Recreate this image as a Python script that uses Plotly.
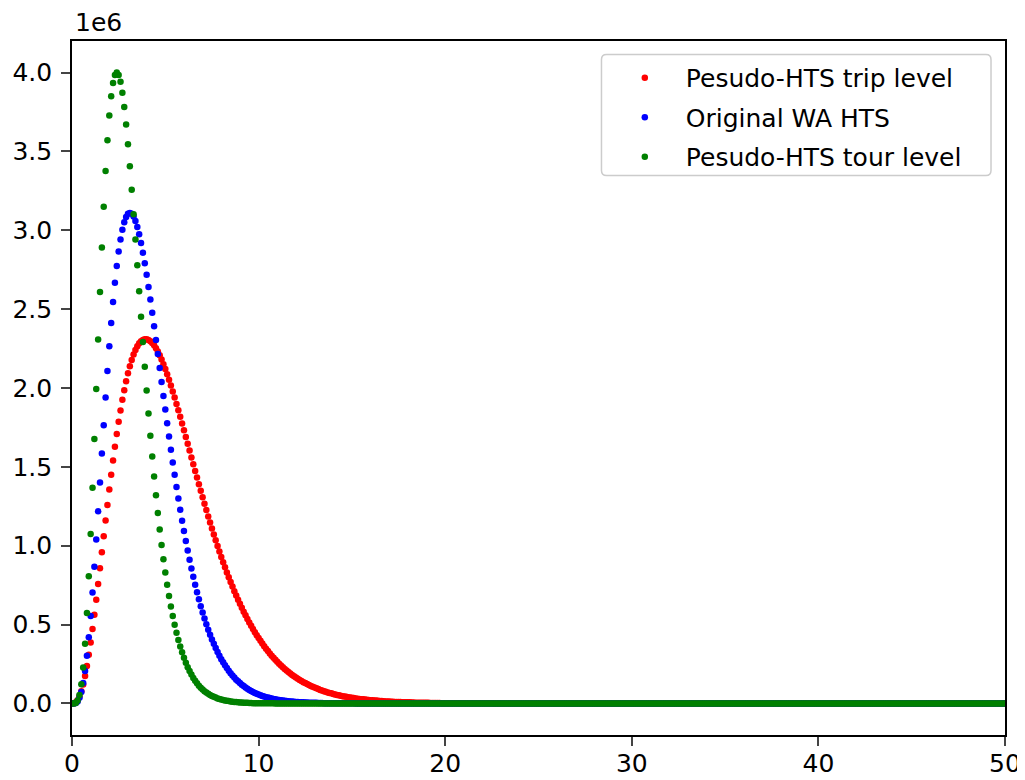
import numpy as np
import plotly.graph_objects as go

trip_level_k = [int(v) for v in """
0 1 7 21 44 77 120 174 237 308 387 472 563 658 757 857 958 1060 1160 1259
1356 1450 1540 1627 1708 1786 1858 1925 1986 2043 2093 2138 2178 2212 2241 2264 2283 2296 2305 2309
2309 2305 2297 2286 2271 2252 2231 2207 2180 2151 2120 2087 2052 2016 1978 1939 1899 1859 1817 1775
1732 1690 1647 1603 1560 1517 1474 1432 1390 1348 1307 1266 1226 1186 1147 1109 1071 1035 999 963
929 896 863 831 800 770 741 712 684 658 632 606 582 559 536 514 492 472 452 433
415 397 380 363 347 332 317 303 290 277 264 252 241 230 219 209 199 190 181 173
165 157 149 142 135 129 123 117 111 106 101 96 91 86 82 78 74 70 67 64
60 57 54 52 49 46 44 42 40 38 36 34 32 30 29 27 26 25 23 22
21 20 19 18 17 16 15 14 13 13 12 11 11 10 10 9 9 8 8 7
7 7 6 6 5 5 5 5 4 4 4 4 3 3 3 3 3 3 2 2
2 2 2 2 2 2 2 1 1 1 1 1 1 1 1 1 1 1 1 1
1 1 1 1 1 1
0 0 0 0 0 0 0 0 0 0 0 0 0 0 0 0 0 0 0 0 0 0 0 0 0
0 0 0 0 0 0 0 0 0 0 0 0 0 0 0 0 0 0 0 0 0 0 0 0 0
0 0 0 0 0 0 0 0 0 0 0 0 0 0 0 0 0 0 0 0 0 0 0 0 0
0 0 0 0 0 0 0 0 0 0 0 0 0 0 0 0 0 0 0 0 0 0 0 0 0
0 0 0 0 0 0 0 0 0 0 0 0 0 0 0 0 0 0 0 0 0 0 0 0 0
0 0 0 0 0 0 0 0 0 0 0 0 0 0 0 0 0 0 0 0 0 0 0 0 0
0 0 0 0 0 0 0 0 0 0 0 0 0 0 0 0 0 0 0 0 0 0 0 0 0
0 0 0 0 0 0 0 0 0 0 0 0 0 0 0 0 0 0 0 0 0 0 0 0 0
0 0 0 0 0 0 0 0 0 0 0 0 0 0 0 0 0 0 0 0 0 0 0 0 0
0 0 0 0 0 0 0 0 0 0 0 0 0 0 0 0 0 0 0 0 0 0 0 0 0
0 0 0 0 0 0 0 0 0 0 0 0 0 0 0 0 0 0 0 0 0 0 0 0 0
""".split()]

original_hts_k = [int(v) for v in """
0 0 3 13 36 73 130 206 303 420 554 704 867 1039 1219 1401 1584 1764 1940 2107
2265 2412 2546 2667 2774 2865 2942 3004 3051 3084 3104 3110 3104 3087 3058 3021 2974 2920 2858 2791
2718 2641 2561 2477 2391 2304 2216 2127 2038 1950 1863 1777 1692 1609 1528 1450 1373 1299 1228 1159
1093 1030 969 911 856 803 753 705 660 617 576 538 502 468 436 406 378 351 326 303
281 261 242 224 207 192 177 164 151 140 129 119 110 101 93 86 79 73 67 62
57 52 48 44 40 37 34 31 28 26 24 22 20 18 17 15 14 13 12 11
10 9 8 7 7 6 6 5 5 4 4 4 3 3 3 2 2 2 2 2
2 1 1 1 1 1 1 1 1 1 1 1
0 0 0 0 0 0 0 0 0 0 0 0 0 0 0 0 0 0 0 0 0 0 0 0 0
0 0 0 0 0 0 0 0 0 0 0 0 0 0 0 0 0 0 0 0 0 0 0 0 0
0 0 0 0 0 0 0 0 0 0 0 0 0 0 0 0 0 0 0 0 0 0 0 0 0
0 0 0 0 0 0 0 0 0 0 0 0 0 0 0 0 0 0 0 0 0 0 0 0 0
0 0 0 0 0 0 0 0 0 0 0 0 0 0 0 0 0 0 0 0 0 0 0 0 0
0 0 0 0 0 0 0 0 0 0 0 0 0 0 0 0 0 0 0 0 0 0 0 0 0
0 0 0 0 0 0 0 0 0 0 0 0 0 0 0 0 0 0 0 0 0 0 0 0 0
0 0 0 0 0 0 0 0 0 0 0 0 0 0 0 0 0 0 0 0 0 0 0 0 0
0 0 0 0 0 0 0 0 0 0 0 0 0 0 0 0 0 0 0 0 0 0 0 0 0
0 0 0 0 0 0 0 0 0 0 0 0 0 0 0 0 0 0 0 0 0 0 0 0 0
0 0 0 0 0 0 0 0 0 0 0 0 0 0 0 0 0 0 0 0 0 0 0 0 0
0 0 0 0 0 0 0 0 0 0 0 0 0 0 0 0 0 0 0 0 0 0 0 0 0
0 0 0 0 0 0 0 0 0 0 0 0 0 0 0 0 0 0 0 0 0 0 0 0 0
0 0 0 0 0 0 0 0 0 0 0 0 0 0 0 0 0 0 0 0 0 0 0 0
""".split()]

tour_level_k = [int(v) for v in """
0 0 3 18 54 121 228 379 573 807 1074 1368 1677 1993 2307 2609 2891 3149 3376 3570
3728 3849 3934 3984 4000 3985 3941 3872 3781 3671 3545 3406 3257 3101 2941 2778 2614 2451 2291 2135
1984 1838 1698 1565 1439 1320 1208 1103 1005 915 830 753 681 615 555 499 449 403 361 324
289 258 230 205 183 162 144 128 113 100 89 78 69 61 54 47 42 37 32 28
25 22 19 17 15 13 11 10 9 7 6 6 5 4 4 3 3 2 2 2
2 1 1 1 1 1 1 1 1
0 0 0 0 0 0 0 0 0 0 0 0 0 0 0 0 0 0 0 0 0 0 0 0 0
0 0 0 0 0 0 0 0 0 0 0 0 0 0 0 0 0 0 0 0 0 0 0 0 0
0 0 0 0 0 0 0 0 0 0 0 0 0 0 0 0 0 0 0 0 0 0 0 0 0
0 0 0 0 0 0 0 0 0 0 0 0 0 0 0 0 0 0 0 0 0 0 0 0 0
0 0 0 0 0 0 0 0 0 0 0 0 0 0 0 0 0 0 0 0 0 0 0 0 0
0 0 0 0 0 0 0 0 0 0 0 0 0 0 0 0 0 0 0 0 0 0 0 0 0
0 0 0 0 0 0 0 0 0 0 0 0 0 0 0 0 0 0 0 0 0 0 0 0 0
0 0 0 0 0 0 0 0 0 0 0 0 0 0 0 0 0 0 0 0 0 0 0 0 0
0 0 0 0 0 0 0 0 0 0 0 0 0 0 0 0 0 0 0 0 0 0 0 0 0
0 0 0 0 0 0 0 0 0 0 0 0 0 0 0 0 0 0 0 0 0 0 0 0 0
0 0 0 0 0 0 0 0 0 0 0 0 0 0 0 0 0 0 0 0 0 0 0 0 0
0 0 0 0 0 0 0 0 0 0 0 0 0 0 0 0 0 0 0 0 0 0 0 0 0
0 0 0 0 0 0 0 0 0 0 0 0 0 0 0 0 0 0 0 0 0 0 0 0 0
0 0 0 0 0 0 0 0 0 0 0 0 0 0 0 0 0 0 0 0 0 0 0 0 0
0 0 0 0 0 0 0 0 0 0 0 0 0 0 0 0 0 0 0 0 0 0 0 0 0
0 0 0 0 0 0 0 0 0 0 0 0 0 0 0 0 0
""".split()]

series_names = ["Pesudo-HTS trip level", "Original WA HTS", "Pesudo-HTS tour level"]
series_colors = ["#ff0000", "#0000ff", "#008000"]
x_ticks = [0, 10, 20, 30, 40, 50]
y_ticks = [0, 0.5, 1.0, 1.5, 2.0, 2.5, 3.0, 3.5, 4.0]
X_STEP = 0.1

FONT = "DejaVu Sans"

fig = go.Figure()
for i, (name, color, vals) in enumerate(zip(series_names, series_colors,
                                            [trip_level_k, original_hts_k, tour_level_k])):
    xs = np.round(np.arange(len(vals)) * X_STEP, 1)
    ys = np.array(vals, dtype=float) / 1000.0  # thousands -> millions (axis shown with 1e6 offset)
    fig.add_trace(go.Scatter(x=xs, y=ys, mode="markers", name=name, legendgroup=str(i),
                             marker=dict(color=color, size=6.5, line=dict(width=0))))

# legend frame (rounded, light grey), paper coordinates
x0, x1, yb, yt = 0.5675, 0.985, 0.8062, 0.9805
rx, ry = 0.0054, 0.0072
frame = (f"M {x0+rx},{yt} L {x1-rx},{yt} Q {x1},{yt} {x1},{yt-ry} L {x1},{yb+ry} "
         f"Q {x1},{yb} {x1-rx},{yb} L {x0+rx},{yb} Q {x0},{yb} {x0},{yb+ry} "
         f"L {x0},{yt-ry} Q {x0},{yt} {x0+rx},{yt} Z")

fig.update_layout(
    width=1017, height=772,
    margin=dict(l=64, r=20, t=33, b=45, autoexpand=False),
    paper_bgcolor="white", plot_bgcolor="white",
    font=dict(family=FONT, size=25, color="black"),
    showlegend=True,
    legend=dict(x=0.570, y=0.980, xanchor="left", yanchor="top",
                bgcolor="rgba(0,0,0,0)", borderwidth=0,
                font=dict(family=FONT, size=25, color="black"),
                itemwidth=72, tracegroupgap=4),
    shapes=[dict(type="path", path=frame, xref="paper", yref="paper", layer="above",
                 fillcolor="rgba(255,255,255,0.8)", line=dict(color="#cccccc", width=1.5))],
    xaxis=dict(range=[0, 50], tickvals=x_ticks, ticks="outside", ticklen=9, tickwidth=1.6,
               showline=True, linecolor="black", linewidth=1.6, mirror=True, showgrid=False,
               zeroline=False, automargin=False, ticklabelstandoff=-4),
    yaxis=dict(range=[-0.2, 4.2], tickvals=y_ticks, tickformat=".1f",
               ticks="outside", ticklen=9, tickwidth=1.6,
               showline=True, linecolor="black", linewidth=1.6, mirror=True, showgrid=False,
               zeroline=False, automargin=False, ticklabelstandoff=4),
    annotations=[dict(text="1e6", xref="paper", yref="paper", x=0.001, y=1.026, xanchor="left",
                      yanchor="middle", showarrow=False, font=dict(family=FONT, size=25))],
)
fig.write_html("out.html")
